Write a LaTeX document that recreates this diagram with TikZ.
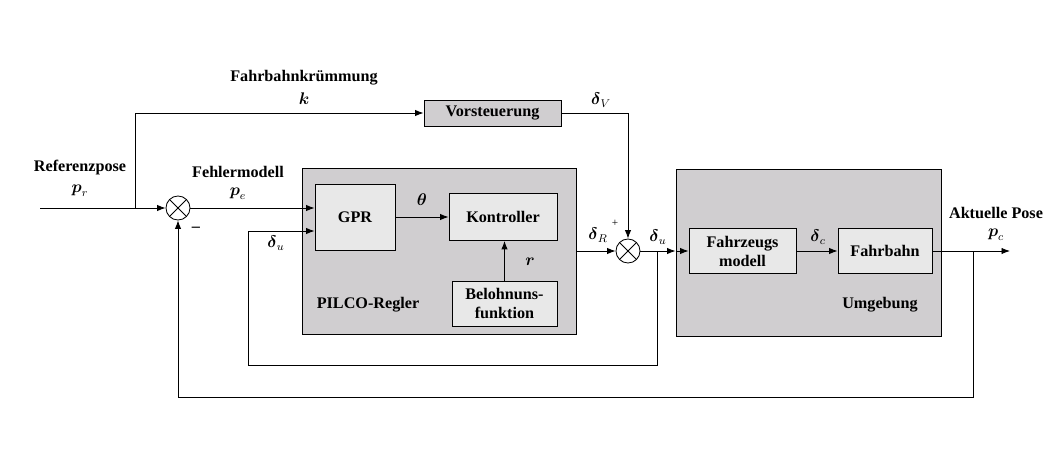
\documentclass[tikz,border=0pt]{standalone}
\usepackage{fontspec}
\setmainfont{Liberation Serif}
\usepackage{amsmath}
\usetikzlibrary{positioning,fit,arrows.meta,calc}
\definecolor{groupgray}{RGB}{208,206,208}
\definecolor{blockgray}{RGB}{232,232,232}

\begin{document}
\begin{tikzpicture}[
  x=0.025cm, y=-0.025cm,
  every node/.style={font=\fontsize{11.5}{13.5}\selectfont\bfseries},
  every path/.style={line width=0.6pt},
  group/.style={draw, fill=groupgray, inner sep=0pt},
  block/.style={draw, fill=blockgray, align=center, inner sep=0pt},
  sumnode/.style={draw, circle, fill=white, minimum size=0.6cm, inner sep=0pt,
    path picture={\draw (path picture bounding box.north west) -- (path picture bounding box.south east)
      (path picture bounding box.north east) -- (path picture bounding box.south west);}},
  >={Latex[length=6pt,width=4.5pt]}
]
\useasboundingbox (0,0) rectangle (1059,454);

% groups
\node[group, minimum width=6.85cm, minimum height=4.15cm] (pilco) at (439,251) {};
\node[group, minimum width=6.625cm, minimum height=4.175cm] (umg) at (808.5,252.5) {};

% blocks
\node[group, minimum width=3.425cm, minimum height=0.65cm] (vor) at (492.5,113) {Vorsteuerung};
\node[block, minimum width=2cm, minimum height=1.65cm] (gpr) at (355,217) {GPR};
\node[block, minimum width=2.7cm, minimum height=1.175cm] (kon) at (503,217) {Kontroller};
\node[block, minimum width=2.625cm, minimum height=1.125cm] (bel) at (504.5,303.5) {Belohnuns-\\funktion};
\node[block, minimum width=2.675cm, minimum height=1.125cm] (fzm) at (742.5,251) {Fahrzeugs\\modell};
\node[block, minimum width=2.35cm, minimum height=1.125cm] (fbn) at (885,251) {Fahrbahn};

\node[sumnode] (sum1) at (178,208) {};
\node[sumnode] (sum2) at (628,251) {};

% labels
\node (lkr) at (304,78) {Fahrbahnkrümmung};
\node (lk) at (304,99) {$\boldsymbol{k}$};
\node (lref) at (80,168) {Referenzpose};
\node (lpr) at (80,191) {$\boldsymbol{p}_r$};
\node (lfm) at (238,172) {Fehlermodell};
\node (lpe) at (238,194) {$\boldsymbol{p}_e$};
\node (lth) at (422,200) {$\boldsymbol{\theta}$};
\node (lr) at (530,262) {$\boldsymbol{r}$};
\node (ldu1) at (276,243) {$\boldsymbol{\delta}_u$};
\node (lpilco) at (368,305) {PILCO-Regler};
\node (ldr) at (598,235) {$\boldsymbol{\delta}_R$};
\node[font=\footnotesize] (lplus) at (615,223) {+};
\node (ldv) at (601,100) {$\boldsymbol{\delta}_V$};
\node (ldu2) at (658,237) {$\boldsymbol{\delta}_u$};
\node (ldc) at (818,237) {$\boldsymbol{\delta}_c$};
\node (lumg) at (880,305) {Umgebung};
\node (lakt) at (996,213) {Aktuelle Pose};
\node (lpc) at (996,235) {$\boldsymbol{p}_c$};
\node (lminus) at (196,229) {--};

% connectors
\coordinate (in) at (40,208);
\coordinate (br1) at (135,208);
\coordinate (br2) at (657,251);
\coordinate (fb2) at (248,365);
\coordinate (out) at (1010,251);
\coordinate (br3) at (973,251);
\coordinate (fb3) at (973,397);

\draw[->] (in) -- (sum1);
\draw[->] (br1) |- (vor);
\draw[->] (sum1) -- (sum1 -| gpr.west);
\draw[->] (gpr.east) -- (gpr.east -| kon.west);
\draw[->] (bel.north) -- (bel.north |- kon.south);
\draw[->] (pilco) -- (sum2);
\draw[->] (vor) -| (sum2);
\draw[->] (sum2) -- (sum2 -| umg.west);
\draw[->] (sum2 -| umg.west) -- (fzm);
\draw[->] (br2) |- (fb2) |- ($(gpr.west)+(0,14)$);
\draw[->] (fzm) -- (fbn);
\draw[->] (fbn) -- (out);
\draw[->] (br3) -- (fb3) -| (sum1);
\end{tikzpicture}
\end{document}
